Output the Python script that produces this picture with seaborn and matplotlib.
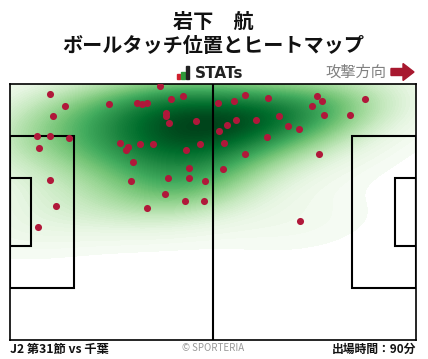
import matplotlib
matplotlib.use("Agg")
import matplotlib.pyplot as plt
import seaborn as sns
import numpy as np
import pandas as pd
from matplotlib.patches import Rectangle, Polygon

sns.set_theme(style="white")
plt.rcParams['font.family'] = ['Noto Sans CJK JP', 'DejaVu Sans']

title_name = "岩下　航"
title_sub = "ボールタッチ位置とヒートマップ"
footer_left = "J2 第31節 vs 千葉"
footer_mid = "© SPORTERIA"
footer_right = "出場時間：90分"
attack_label = "攻撃方向"

# touch positions in pitch metres (x: 0-105 left->right, y: 0-68 top->bottom)
touch_x = [10.3, 14.2, 11.2, 7.1, 10.3, 15.3, 7.5, 10.3, 12.0, 7.3,
           38.8, 25.7, 32.9, 34.2, 35.4, 44.7, 41.7, 40.4, 40.4, 41.2,
           48.2, 28.5, 30.5, 30.0, 33.7, 37.0, 49.2, 45.5, 31.9, 46.3,
           31.3, 40.9, 46.3, 50.4, 40.1, 45.3, 50.2, 35.5,
           53.9, 58.0, 60.8, 66.8, 79.5, 80.8, 78.2, 91.9, 81.2, 88.0,
           69.6, 63.7, 58.5, 56.2, 54.1, 71.9, 74.8, 66.5, 55.4, 60.8,
           79.9, 55.1, 75.0]
touch_y = [2.7, 5.9, 8.6, 13.8, 13.8, 14.4, 17.1, 25.6, 32.4, 38.0,
           0.5, 5.4, 5.0, 5.4, 5.0, 3.2, 4.1, 7.8, 8.4, 10.4,
           9.9, 15.7, 16.8, 17.4, 16.0, 16.0, 16.0, 17.6, 20.8, 22.4,
           25.8, 25.0, 25.0, 25.8, 29.3, 31.1, 31.1, 32.9,
           5.1, 4.6, 3.0, 3.8, 3.2, 4.6, 5.9, 4.1, 8.3, 8.3,
           8.6, 9.6, 9.6, 11.0, 12.6, 11.2, 12.0, 14.1, 15.8, 18.7,
           18.7, 22.6, 36.5]

df = pd.DataFrame({"x": touch_x, "y": touch_y})

W, H = 428, 359
fig = plt.figure(figsize=(W / 100, H / 100), dpi=100)
fig.patch.set_facecolor("white")

# pitch axes
ax = fig.add_axes([10 / W, (H - 340) / H, 406 / W, 256 / H])
sns.kdeplot(data=df, x="x", y="y", fill=True, cmap="Greens", levels=100,
            thresh=0.008, bw_adjust=1.3, clip=((0, 105), (0, 68)), ax=ax,
            zorder=1)
ax.set_xlim(0, 105)
ax.set_ylim(68, 0)
ax.set_xlabel("")
ax.set_ylabel("")
ax.set_xticks([])
ax.set_yticks([])
for s in ax.spines.values():
    s.set_visible(True)
    s.set_color("black")
    s.set_linewidth(1.2)

lw = 1.5
lc = "black"
ax.plot([52.5, 52.5], [0, 68], color=lc, lw=lw, zorder=3)
# penalty boxes
ax.add_patch(Rectangle((0, 13.85), 16.5, 40.3, fill=False, ec=lc, lw=lw, zorder=3))
ax.add_patch(Rectangle((105 - 16.5, 13.85), 16.5, 40.3, fill=False, ec=lc, lw=lw, zorder=3))
# goal areas
ax.add_patch(Rectangle((0, 24.85), 5.5, 18.3, fill=False, ec=lc, lw=lw, zorder=3))
ax.add_patch(Rectangle((105 - 5.5, 24.85), 5.5, 18.3, fill=False, ec=lc, lw=lw, zorder=3))

sns.scatterplot(data=df, x="x", y="y", color="#B0183A", s=26, linewidth=0,
                ax=ax, zorder=4)
ax.set_xlabel("")
ax.set_ylabel("")

# decoration axes in pixel coordinates
deco = fig.add_axes([0, 0, 1, 1], zorder=-1)
deco.set_xlim(0, W)
deco.set_ylim(H, 0)
deco.axis("off")

fig.text(213 / W, 1 - 21 / H, title_name, ha="center", va="center",
         fontsize=14.5, fontweight="bold", color="#111111")
fig.text(213 / W, 1 - 46 / H, title_sub, ha="center", va="center",
         fontsize=14.5, fontweight="bold", color="#111111")

# STATs logo
deco.add_patch(Rectangle((177, 73.5), 3.5, 5.5, color="#D0202E"))
deco.add_patch(Rectangle((181.5, 71.5), 3.5, 7.5, color="#2E9A3A"))
deco.add_patch(Rectangle((186, 66), 3.5, 13, color="#222222"))
fig.text(195 / W, 1 - 73 / H, "STATs", ha="left", va="center",
         fontsize=11, fontweight="bold", color="#222222",
         family=["DejaVu Sans"])

# attack direction
fig.text(386 / W, 1 - 72 / H, attack_label, ha="right", va="center",
         fontsize=11, color="#808080")
deco.add_patch(Polygon([(391, 68.5), (403, 68.5), (403, 63.5), (414, 72),
                        (403, 80.5), (403, 75.5), (391, 75.5)],
                       closed=True, color="#A8182F"))

# footer
fig.text(10 / W, 1 - 349 / H, footer_left, ha="left", va="center",
         fontsize=8.8, fontweight="bold", color="#111111")
fig.text(213 / W, 1 - 348 / H, footer_mid, ha="center", va="center",
         fontsize=7, color="#999999")
fig.text(416 / W, 1 - 349 / H, footer_right, ha="right", va="center",
         fontsize=8.5, fontweight="bold", color="#111111")

fig.savefig("out.png", dpi=100, facecolor="white")
